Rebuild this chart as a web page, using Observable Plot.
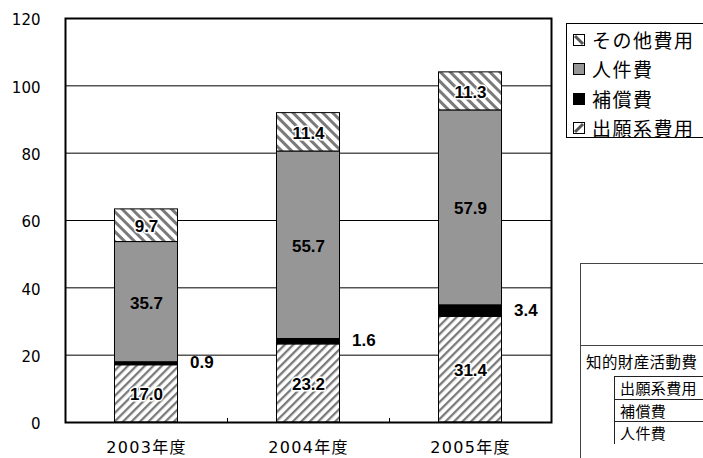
<!DOCTYPE html>
<html>
<head>
<meta charset="utf-8">
<script src="https://cdn.jsdelivr.net/npm/d3@7"></script>
<script src="https://cdn.jsdelivr.net/npm/@observablehq/plot@0.6"></script>
<style>
  html, body { margin: 0; padding: 0; background: #fff; overflow: hidden; }
  #wrap { position: relative; width: 703px; height: 458px; overflow: hidden; font-family: "DejaVu Sans", "Noto Sans CJK JP", sans-serif; }
  #chart { position: absolute; left: 0; top: 0; }
  #chart [aria-label="x-axis tick label"] text { letter-spacing: 1.3px; }
  #chart [aria-label="bar-label"] text { letter-spacing: 1px; }
  #legend { position: absolute; left: 566px; top: 23px; width: 160px; height: 115px; border: 1px solid #000; background: #fff; box-sizing: border-box; padding-top: 1px; }
  #legend .item { height: 29.5px; display: flex; align-items: center; font-family: "Noto Sans CJK JP", sans-serif; font-size: 19px; line-height: 22px; letter-spacing: 1.5px; white-space: nowrap; }
  #legend svg { margin-left: 6px; margin-right: 7px; flex: none; }
  #table { position: absolute; left: 580px; top: 263px; width: 200px; height: 260px; border: 1px solid #444; box-sizing: border-box; background: #fff; font-family: "Noto Sans CJK JP", sans-serif; font-size: 15.5px; letter-spacing: 0.4px; white-space: nowrap; }
  #table .top { height: 81px; border-bottom: 1px solid #444; }
  #table .title { height: 30px; line-height: 30px; padding-left: 5px; overflow: hidden; }
  #table .row { margin-left: 33px; height: 21.5px; line-height: 21px; font-size: 15px; border: 1px solid #222; border-bottom: none; padding-left: 5px; overflow: hidden; }
</style>
</head>
<body>
<div id="wrap">
  <div id="chart"></div>
  <div id="legend"></div>
  <div id="table"></div>
</div>
<script>
// ---- data ----
const categories = ["2003年度", "2004年度", "2005年度"];
const seriesNames = ["出願系費用", "補償費", "人件費", "その他費用"]; // bottom to top
const shutsuganValues = [17.0, 23.2, 31.4];
const hoshoValues = [0.9, 1.6, 3.4];
const jinkenValues = [35.7, 55.7, 57.9];
const sonotaValues = [9.7, 11.4, 11.3];
const yTickValues = [0, 20, 40, 60, 80, 100, 120];
const legendOrder = ["その他費用", "人件費", "補償費", "出願系費用"];
const tableTitle = "知的財産活動費";
const tableRows = ["出願系費用", "補償費", "人件費"];

const seriesValues = [shutsuganValues, hoshoValues, jinkenValues, sonotaValues];
const data = [];
categories.forEach((c, i) => {
  seriesNames.forEach((s, j) => data.push({year: c, series: s, value: seriesValues[j][i]}));
});

const fills = {
  "出願系費用": "url(#hatchFwd)",
  "補償費": "#000000",
  "人件費": "#969696",
  "その他費用": "url(#hatchBack)"
};
const hatched = new Set(["出願系費用", "その他費用"]);

const W = 703, H = 458, mL = 65, mR = 152, mT = 18, mB = 36;
const step = (W - mL - mR) / categories.length;
const barW = 63;
const inset = (step - barW) / 2;

const stackOpts = {x: "year", y: "value", z: "series", order: seriesNames};
const labelFont = {fontFamily: "'Liberation Sans', Arial, sans-serif", fontWeight: "bold", fontSize: 17, ariaLabel: "bar-label"};

const plot = Plot.plot({
  width: W, height: H,
  marginLeft: mL, marginRight: mR, marginTop: mT, marginBottom: mB,
  style: {fontFamily: "'DejaVu Sans', 'Noto Sans CJK JP', sans-serif", fontSize: "15px", background: "white", color: "#000"},
  x: {domain: categories, padding: 0, label: null},
  y: {domain: [0, 120], label: null},
  color: {type: "ordinal", domain: seriesNames, range: seriesNames.map(s => fills[s])},
  marks: [
    Plot.ruleY(yTickValues.filter(v => v > 0 && v < 120), {stroke: "#000", strokeWidth: 1}),
    Plot.barY(data, Plot.stackY({...stackOpts, fill: "series", stroke: "#000", strokeWidth: 1, insetLeft: inset, insetRight: inset})),
    // in-bar labels on hatched segments (white halo)
    Plot.text(data, Plot.stackY({...stackOpts, ...labelFont, text: d => hatched.has(d.series) ? d.value.toFixed(1) : "", fill: "#000", stroke: "#fff", strokeWidth: 3, dy: 1})),
    // in-bar labels on gray segment
    Plot.text(data, Plot.stackY({...stackOpts, ...labelFont, text: d => d.series === "人件費" ? d.value.toFixed(1) : "", fill: "#000", dy: 1})),
    // 補償費 labels to the right
    Plot.text(data, Plot.stackY({...stackOpts, ...labelFont, text: d => d.series === "補償費" ? d.value.toFixed(1) : "", fill: "#000", textAnchor: "start", dx: barW / 2 + 12, dy: -1})),
    // small category separator ticks on the bottom axis
    Plot.ruleX(categories.slice(1), {x: d => d, y1: 0, y2: 1.2, stroke: "#000", strokeWidth: 1, dx: -step / 2}),
    Plot.axisY({ticks: yTickValues, tickSize: 0, tickPadding: 25, fontSize: 15, dy: 2}),
    Plot.axisX({tickSize: 0, tickPadding: 19, fontSize: 16}),
    Plot.frame({stroke: "#000", strokeWidth: 2})
  ]
});

// hatch pattern definitions
const svgNS = "http://www.w3.org/2000/svg";
const defs = document.createElementNS(svgNS, "defs");
defs.innerHTML = `
  <pattern id="hatchFwd" patternUnits="userSpaceOnUse" width="6" height="6" patternTransform="rotate(45)">
    <rect width="6" height="6" fill="#fff"/>
    <rect x="0" y="0" width="2.3" height="6" fill="#7a7a7a"/>
  </pattern>
  <pattern id="hatchBack" patternUnits="userSpaceOnUse" width="7" height="7" patternTransform="rotate(-45)">
    <rect width="7" height="7" fill="#fff"/>
    <rect x="0" y="0" width="3" height="7" fill="#7a7a7a"/>
  </pattern>`;
plot.insertBefore(defs, plot.firstChild);
document.getElementById("chart").appendChild(plot);

// legend
const legend = document.getElementById("legend");
legendOrder.forEach(s => {
  const item = document.createElement("div");
  item.className = "item";
  let sw;
  if (s === "その他費用") {
    sw = `<svg width="12" height="12"><rect x="0.5" y="0.5" width="11" height="11" fill="#fff" stroke="#000"/><path d="M2,2 L10,10" stroke="#555" stroke-width="3"/></svg>`;
  } else if (s === "出願系費用") {
    sw = `<svg width="12" height="12"><rect x="0.5" y="0.5" width="11" height="11" fill="#fff" stroke="#000"/><path d="M2,10 L10,2" stroke="#555" stroke-width="3"/></svg>`;
  } else {
    sw = `<svg width="12" height="12"><rect x="0.5" y="0.5" width="11" height="11" fill="${fills[s]}" stroke="#000"/></svg>`;
  }
  item.innerHTML = sw + `<span>${s}</span>`;
  legend.appendChild(item);
});

// partially visible table
const table = document.getElementById("table");
table.innerHTML = `<div class="top"></div><div class="title">${tableTitle}</div>` +
  tableRows.map(r => `<div class="row">${r}</div>`).join("");
</script>
</body>
</html>
